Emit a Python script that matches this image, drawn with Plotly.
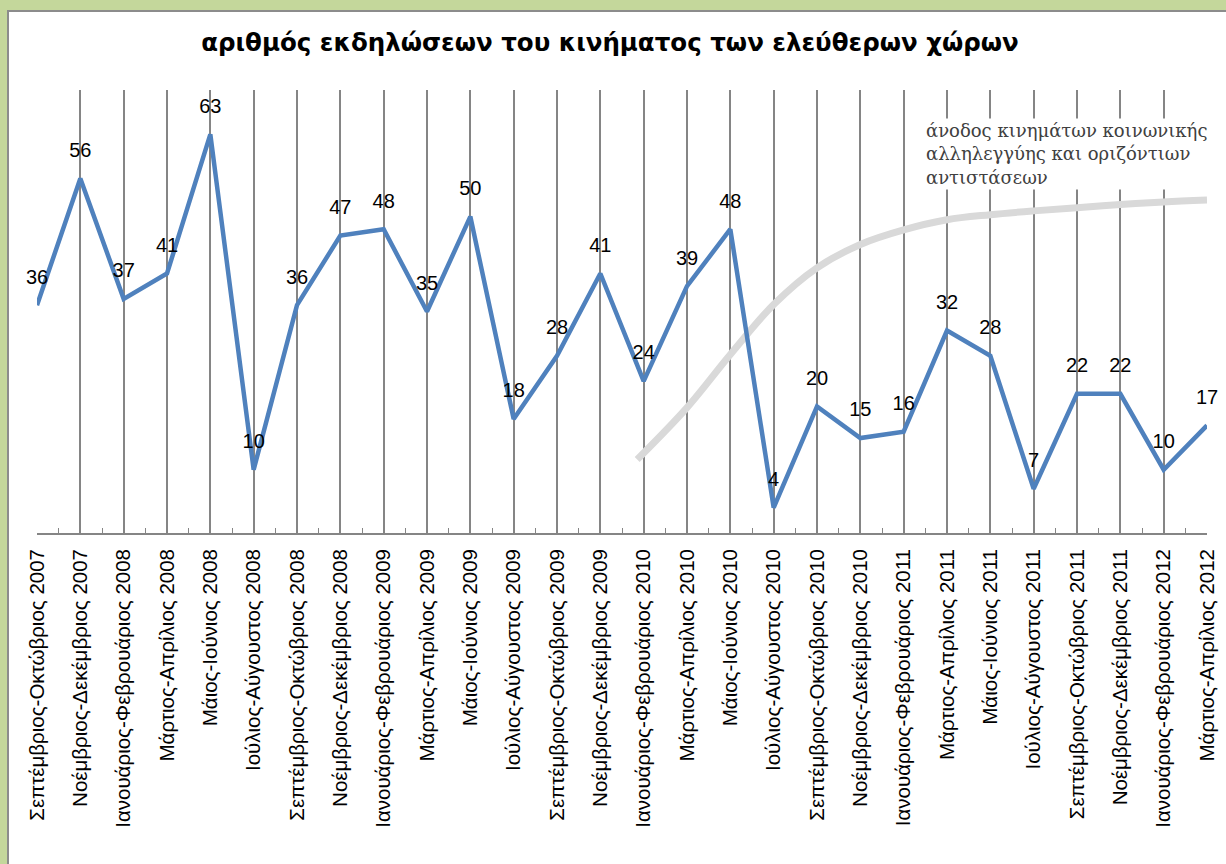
import plotly.graph_objects as go

categories = [
    "Σεπτέμβριος-Οκτώβριος 2007", "Νοέμβριος-Δεκέμβριος 2007", "Ιανουάριος-Φεβρουάριος 2008",
    "Μάρτιος-Απρίλιος 2008", "Μάιος-Ιούνιος 2008", "Ιούλιος-Αύγουστος 2008",
    "Σεπτέμβριος-Οκτώβριος 2008", "Νοέμβριος-Δεκέμβριος 2008", "Ιανουάριος-Φεβρουάριος 2009",
    "Μάρτιος-Απρίλιος 2009", "Μάιος-Ιούνιος 2009", "Ιούλιος-Αύγουστος 2009",
    "Σεπτέμβριος-Οκτώβριος 2009", "Νοέμβριος-Δεκέμβριος 2009", "Ιανουάριος-Φεβρουάριος 2010",
    "Μάρτιος-Απρίλιος 2010", "Μάιος-Ιούνιος 2010", "Ιούλιος-Αύγουστος 2010",
    "Σεπτέμβριος-Οκτώβριος 2010", "Νοέμβριος-Δεκέμβριος 2010", "Ιανουάριος-Φεβρουάριος 2011",
    "Μάρτιος-Απρίλιος 2011", "Μάιος-Ιούνιος 2011", "Ιούλιος-Αύγουστος 2011",
    "Σεπτέμβριος-Οκτώβριος 2011", "Νοέμβριος-Δεκέμβριος 2011", "Ιανουάριος-Φεβρουάριος 2012",
    "Μάρτιος-Απρίλιος 2012",
]
events = [36, 56, 37, 41, 63, 10, 36, 47, 48, 35, 50, 18, 28, 41, 24, 39, 48, 4,
          20, 15, 16, 32, 28, 7, 22, 22, 10, 17]

# decorative trend curve ("rise of movements")
trend_x = [13.85, 15, 16, 17, 18, 19, 20, 21, 22, 23, 24, 25, 26, 27]
trend_y = [11.6, 19.8, 28.2, 36.1, 41.9, 45.6, 47.9, 49.5, 50.3, 50.9, 51.4, 51.9, 52.3, 52.6]

title_text = "αριθμός εκδηλώσεων του κινήματος των ελεύθερων χώρων"
note_text = "άνοδος κινημάτων κοινωνικής<br>αλληλεγγύης και οριζόντιων<br>αντιστάσεων"

# layout geometry (pixels)
W, H = 1226, 864
L, R, T, B = 37, 1207, 90, 533

def px_x(px):
    return (px - L) / (R - L)

def px_y(py):
    return (B - py) / (B - T)

x_idx = list(range(len(categories)))

fig = go.Figure()
fig.add_trace(go.Scatter(
    x=trend_x, y=trend_y, mode="lines",
    line=dict(color="#d9d9d9", width=7, shape="spline", smoothing=1.0),
    hoverinfo="skip", showlegend=False,
))
fig.add_trace(go.Scatter(
    x=x_idx, y=events, mode="lines+markers+text",
    line=dict(color="#4f81bd", width=4.5),
    marker=dict(size=25, color="rgba(0,0,0,0)"),
    text=[str(v) for v in events], textposition="top center",
    textfont=dict(family="Liberation Sans, Arial", size=20, color="#000000"),
    cliponaxis=False, showlegend=False,
))

fig.update_layout(
    width=W, height=H,
    margin=dict(l=L, r=W - R, t=T, b=H - B, autoexpand=False),
    paper_bgcolor="#c4d79b",
    plot_bgcolor="rgba(0,0,0,0)",
    showlegend=False,
    title=dict(
        text=title_text, x=px_x(610), xref="paper", xanchor="center",
        y=1 - 42 / H, yref="container", yanchor="middle",
        font=dict(family="DejaVu Sans", size=24.5, color="#000000", weight="bold"),
    ),
    shapes=[dict(
        type="rect", xref="paper", yref="paper", layer="below",
        x0=px_x(8), x1=px_x(1240), y0=px_y(880), y1=px_y(11),
        fillcolor="#ffffff", line=dict(color="#8c8c8c", width=2),
    )],
    annotations=[dict(
        text=note_text, xref="paper", yref="paper",
        x=px_x(924), y=px_y(118), xanchor="left", yanchor="top",
        align="left", showarrow=False, bgcolor="#ffffff",
        font=dict(family="DejaVu Serif", size=18, color="#404040"),
    )],
)

fig.update_xaxes(
    range=[0, len(categories) - 1],
    tickmode="array", tickvals=x_idx, ticktext=categories,
    tickangle=-90, tickfont=dict(family="Liberation Sans, Arial", size=20.5, color="#000000"),
    ticklabelstandoff=6,
    showgrid=True, gridcolor="#858585", gridwidth=1.6,
    showline=True, linecolor="#858585", linewidth=1.6,
    ticks="inside", ticklen=5, tickcolor="#858585",
    minor=dict(tickmode="linear", dtick=0.5, tick0=0, ticks="inside", ticklen=5, tickcolor="#858585", showgrid=False),
    zeroline=False, fixedrange=True,
)
fig.update_yaxes(
    range=[0, 70], showgrid=False, showticklabels=False, zeroline=False,
    showline=False, ticks="", fixedrange=True,
)

fig.write_html(
    "out.html",
    config={"displayModeBar": False},
    post_script="document.body.style.margin='0';document.body.style.overflow='hidden';",
)
